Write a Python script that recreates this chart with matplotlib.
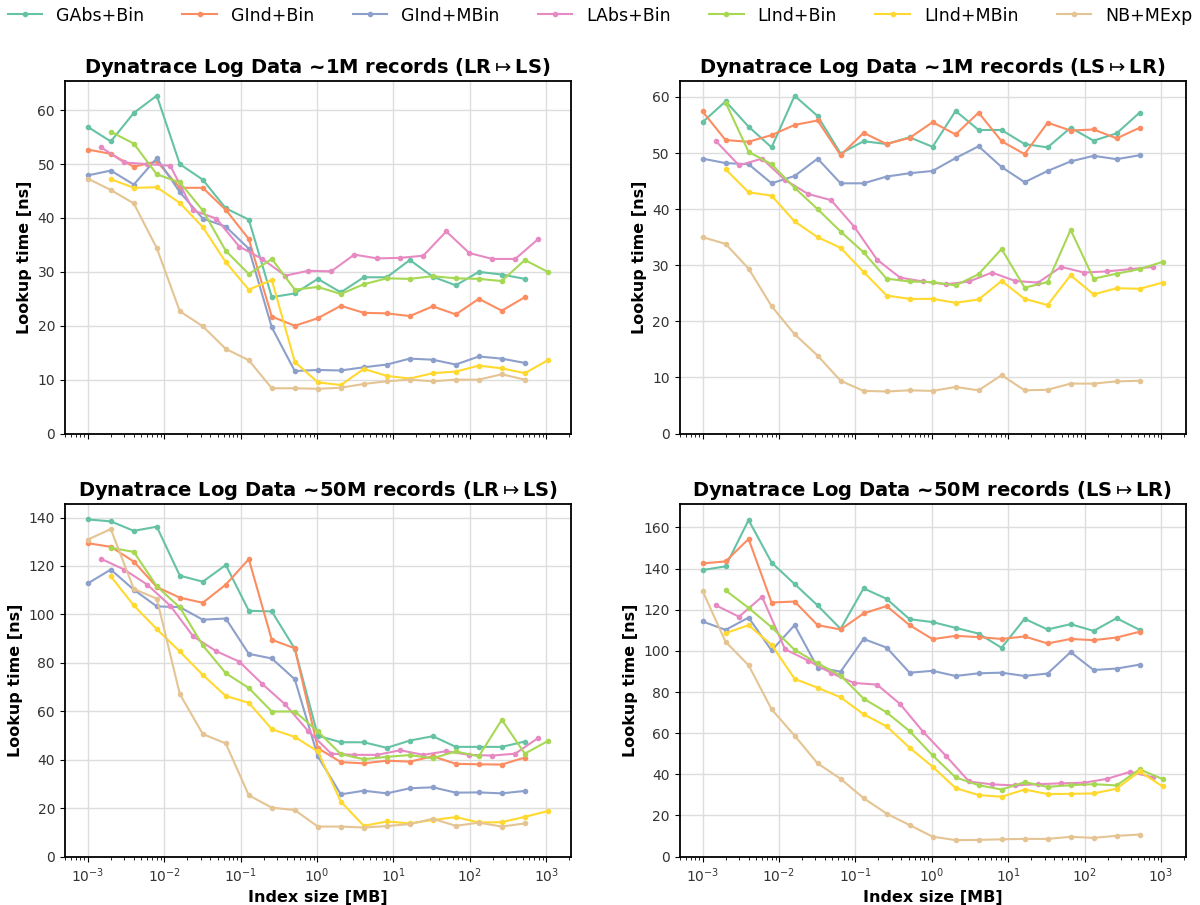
import numpy as np
import matplotlib
matplotlib.use("Agg")
import matplotlib.pyplot as plt

# sizes in MB: 1e-3 * 2^k ; LAbs+Bin is offset to 1.5e-3 * 2^k
k = np.arange(21)
x_full = 1e-3 * 2.0 ** k
x_lo = x_full[:20]          # k = 0..19
x_hi = x_full[1:]           # k = 1..20
x_labs = 1.5e-3 * 2.0 ** np.arange(20)

series_names = ["GAbs+Bin", "GInd+Bin", "GInd+MBin", "LAbs+Bin", "LInd+Bin", "LInd+MBin", "NB+MExp"]
colors = ["#66c2a5", "#fc8d62", "#8da0cb", "#e78ac3", "#a6d854", "#ffd92f", "#e5c494"]
xs = [x_lo, x_lo, x_lo, x_labs, x_hi, x_hi, x_lo]

titles = [
    r"Dynatrace Log Data ~1M records (LR$\mapsto$LS)",
    r"Dynatrace Log Data ~1M records (LS$\mapsto$LR)",
    r"Dynatrace Log Data ~50M records (LR$\mapsto$LS)",
    r"Dynatrace Log Data ~50M records (LS$\mapsto$LR)",
]

# ---- 1M, LR -> LS
p1 = [
    [56.9, 54.2, 59.5, 62.7, 50.0, 47.1, 41.8, 39.7, 25.3, 26.0, 28.7, 26.2, 29.0, 29.0, 32.2, 29.1, 27.5, 30.0, 29.5, 28.7],
    [52.7, 51.9, 49.5, 50.5, 45.6, 45.6, 41.5, 36.1, 21.7, 20.0, 21.4, 23.7, 22.4, 22.3, 21.8, 23.6, 22.1, 25.0, 22.8, 25.3],
    [47.9, 48.8, 46.2, 51.1, 44.8, 39.9, 38.4, 34.3, 19.7, 11.6, 11.8, 11.7, 12.3, 12.8, 13.9, 13.7, 12.8, 14.3, 13.9, 13.1],
    [53.1, 50.3, 50.0, 49.7, 41.4, 39.9, 34.7, 32.4, 29.3, 30.2, 30.1, 33.2, 32.5, 32.6, 33.0, 37.5, 33.5, 32.4, 32.4, 36.1],
    [56.0, 53.8, 48.1, 46.6, 41.4, 33.9, 29.6, 32.4, 26.7, 27.2, 25.9, 27.7, 28.8, 28.7, 29.2, 28.8, 28.7, 28.3, 32.2, 30.0],
    [47.2, 45.6, 45.7, 42.8, 38.3, 31.8, 26.7, 28.5, 13.3, 9.5, 9.0, 12.0, 10.7, 10.2, 11.2, 11.5, 12.6, 12.1, 11.2, 13.6],
    [47.3, 45.2, 42.7, 34.4, 22.7, 19.9, 15.7, 13.6, 8.4, 8.4, 8.3, 8.5, 9.2, 9.7, 10.0, 9.7, 10.0, 10.0, 11.0, 10.0],
]

# ---- 1M, LS -> LR
p2 = [
    [55.5, 59.2, 54.7, 51.0, 60.2, 56.6, 49.9, 52.1, 51.6, 52.8, 51.1, 57.5, 54.1, 54.1, 51.6, 51.0, 54.5, 52.2, 53.5, 57.2],
    [57.4, 52.3, 52.0, 53.2, 55.0, 55.8, 49.6, 53.6, 51.6, 52.7, 55.5, 53.3, 57.2, 52.1, 49.8, 55.4, 54.0, 54.2, 52.6, 54.5],
    [49.0, 48.2, 48.0, 44.6, 45.9, 49.0, 44.6, 44.6, 45.8, 46.4, 46.8, 49.1, 51.2, 47.5, 44.8, 46.8, 48.5, 49.5, 48.9, 49.6],
    [52.1, 47.8, 49.0, 45.2, 42.7, 41.6, 36.9, 31.0, 27.8, 27.1, 26.6, 27.1, 28.7, 27.2, 26.9, 29.7, 28.7, 28.9, 29.3, 29.7],
    [59.0, 50.2, 48.0, 43.8, 40.0, 36.0, 32.3, 27.6, 27.1, 27.0, 26.4, 28.4, 32.9, 26.0, 27.0, 36.3, 27.6, 28.5, 29.3, 30.6],
    [47.1, 43.0, 42.4, 37.8, 35.0, 33.1, 28.8, 24.6, 24.0, 24.0, 23.3, 23.9, 27.2, 24.0, 22.9, 28.2, 24.8, 25.9, 25.8, 26.9],
    [35.0, 33.8, 29.4, 22.7, 17.7, 13.9, 9.4, 7.6, 7.5, 7.7, 7.6, 8.3, 7.7, 10.4, 7.7, 7.8, 8.9, 8.9, 9.3, 9.4],
]

# ---- 50M, LR -> LS
p3 = [
    [139.2, 138.4, 134.5, 136.2, 116.0, 113.5, 120.4, 101.5, 101.2, 85.8, 49.9, 47.2, 47.2, 44.9, 47.9, 49.7, 45.3, 45.3, 45.3, 47.5],
    [129.4, 127.9, 121.8, 111.3, 106.9, 104.8, 112.3, 122.8, 89.5, 86.0, 44.8, 39.0, 38.5, 39.6, 39.2, 41.4, 38.3, 38.1, 38.0, 40.9],
    [112.8, 118.5, 110.2, 103.3, 103.0, 97.8, 98.3, 83.7, 81.8, 73.2, 41.4, 25.7, 27.2, 26.1, 28.2, 28.6, 26.4, 26.5, 26.1, 27.1],
    [122.9, 118.5, 112.3, 103.6, 90.9, 84.8, 80.5, 71.3, 62.8, 51.8, 42.5, 42.0, 42.0, 43.9, 42.0, 43.5, 42.0, 41.7, 42.5, 49.0],
    [127.5, 125.8, 111.6, 102.9, 87.2, 75.7, 69.6, 59.9, 59.9, 51.7, 42.3, 40.2, 41.2, 41.9, 40.6, 43.4, 41.4, 56.5, 42.5, 47.7],
    [115.7, 103.7, 93.9, 84.7, 75.0, 66.3, 63.5, 52.6, 49.4, 43.4, 22.7, 12.7, 14.5, 13.7, 15.1, 16.3, 14.1, 14.2, 16.4, 18.8],
    [130.9, 135.2, 110.5, 106.5, 67.1, 50.6, 46.7, 25.3, 20.2, 19.2, 12.4, 12.4, 12.0, 12.6, 13.4, 15.6, 12.7, 14.0, 12.4, 13.7],
]

# ---- 50M, LS -> LR
p4 = [
    [139.3, 141.1, 163.6, 142.9, 132.5, 122.1, 110.7, 130.4, 125.3, 115.4, 114.0, 111.2, 108.4, 101.5, 115.6, 110.4, 113.0, 109.7, 115.9, 110.2],
    [142.5, 143.5, 154.4, 123.5, 124.0, 112.5, 110.4, 118.2, 121.8, 112.5, 105.7, 107.3, 106.7, 105.8, 107.0, 103.6, 105.8, 105.2, 106.5, 109.3],
    [114.3, 110.2, 116.2, 100.2, 112.5, 91.9, 89.9, 105.8, 101.6, 89.4, 90.3, 87.8, 89.1, 89.4, 87.8, 89.0, 99.4, 90.7, 91.4, 93.3],
    [122.1, 116.6, 126.3, 100.8, 95.3, 89.3, 84.4, 83.6, 74.2, 60.7, 48.9, 36.5, 35.1, 34.6, 35.2, 35.6, 35.9, 37.8, 41.2, 38.5],
    [129.4, 120.9, 111.5, 100.5, 94.0, 88.0, 76.8, 70.1, 61.0, 49.2, 38.5, 34.7, 32.6, 36.2, 33.9, 34.7, 35.2, 34.6, 42.4, 37.7],
    [108.6, 112.5, 102.9, 86.4, 82.1, 77.4, 69.2, 63.3, 52.9, 43.7, 33.3, 29.9, 29.1, 32.6, 30.4, 30.5, 30.7, 33.0, 41.4, 34.1],
    [129.1, 104.4, 93.0, 71.6, 58.8, 45.3, 37.8, 28.4, 20.9, 15.3, 9.7, 8.0, 8.1, 8.4, 8.6, 8.6, 9.6, 9.1, 10.1, 10.7],
]

panels = [p1, p2, p3, p4]

fig, axes = plt.subplots(2, 2, figsize=(12, 9.05), dpi=100, sharex=True)
fig.subplots_adjust(left=0.054, right=0.988, top=0.9105, bottom=0.0535, wspace=0.215, hspace=0.2)

for ax, data, title in zip(axes.flat, panels, titles):
    for name, c, xv, yv in zip(series_names, colors, xs, data):
        ax.plot(xv, yv, color=c, marker="o", markersize=3, linewidth=1.5, label=name)
    ax.set_xscale("log")
    ax.set_ylim(bottom=0)
    ax.set_title(title, fontsize=14, fontweight="bold")
    ax.grid(True, which="major", color="#dddddd", linewidth=1)
    ax.set_axisbelow(True)
    ax.set_ylabel("Lookup time [ns]", fontsize=11.5, fontweight="bold")
    ax.tick_params(labelsize=10, labelcolor="#333333")
    for s in ax.spines.values():
        s.set_linewidth(1.3)

for ax in axes[1]:
    ax.set_xlabel("Index size [MB]", fontsize=11.5, fontweight="bold")

handles, labels = axes[0, 0].get_legend_handles_labels()
fig.legend(handles, labels, loc="upper center", ncol=7, frameon=False,
           fontsize=12.5, bbox_to_anchor=(0.5, 1.01), columnspacing=2.2, handlelength=2)

fig.savefig("out.png", dpi=100)
